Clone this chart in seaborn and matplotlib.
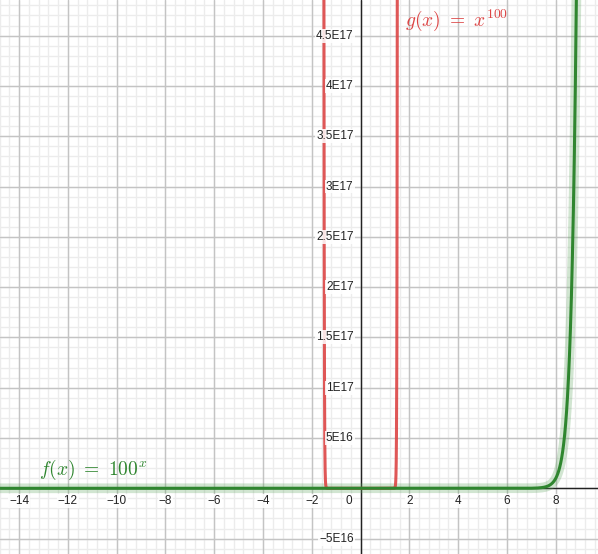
import numpy as np
import pandas as pd
import matplotlib
matplotlib.use("Agg")
import matplotlib.pyplot as plt
import seaborn as sns

# ---- data ----
x_ticks = [-14, -12, -10, -8, -6, -4, -2, 2, 4, 6, 8]
y_ticks = [-5e16, 5e16, 1e17, 1.5e17, 2e17, 2.5e17, 3e17, 3.5e17, 4e17, 4.5e17]
y_tick_labels = ["\u22125E16", "5E16", "1E17", "1.5E17", "2E17", "2.5E17",
                 "3E17", "3.5E17", "4E17", "4.5E17"]
f_base = 100.0        # f(x) = 100^x
g_power = 100         # g(x) = x^100
f_x = np.linspace(-15, 8.9, 1200)
g_x = np.linspace(-1.51, 1.51, 1200)
f_y = f_base ** f_x
g_y = g_x ** g_power

XMIN, XMAX = -14.78, 9.73
YMIN, YMAX = -6.53e16, 4.854e17

sns.set_style("white")
plt.rcParams['font.family'] = ['Liberation Sans', 'DejaVu Sans']
plt.rcParams['mathtext.fontset'] = 'cm'

fig = plt.figure(figsize=(5.98, 5.54), dpi=100)
ax = fig.add_axes([0, 0, 1, 1])
ax.set_xlim(XMIN, XMAX)
ax.set_ylim(YMIN, YMAX)

# grid
for v in np.arange(-16, 10.01, 0.4):
    ax.axvline(v, color="#ececec", lw=1, zorder=0)
for v in np.arange(-1e17, 5e17 + 1, 1e16):
    ax.axhline(v, color="#ececec", lw=1, zorder=0)
for v in range(-16, 11, 2):
    ax.axvline(v, color="#c4c4c4", lw=1, zorder=0.5)
for v in np.arange(-1e17, 5e17 + 1, 5e16):
    ax.axhline(v, color="#c4c4c4", lw=1, zorder=0.5)
ax.axhline(0, color="#222222", lw=1, zorder=1)
ax.axvline(0, color="#222222", lw=1, zorder=1)

green = "#2f862f"
red = "#dc4545"
df_f = pd.DataFrame({"x": f_x, "y": f_y})
df_g = pd.DataFrame({"x": g_x, "y": g_y})
sns.lineplot(data=df_f, x="x", y="y", ax=ax, color="#5aa35a", lw=7, alpha=0.28,
             zorder=2, sort=False)
sns.lineplot(data=df_g, x="x", y="y", ax=ax, color=red, lw=2.2, alpha=0.9,
             zorder=3, sort=False)
sns.lineplot(data=df_f, x="x", y="y", ax=ax, color=green, lw=2.2, zorder=4,
             sort=False)
ax.set_xlim(XMIN, XMAX)
ax.set_ylim(YMIN, YMAX)

for s in ax.spines.values():
    s.set_visible(False)
ax.set_xticks([])
ax.set_yticks([])
ax.set_xlabel("")
ax.set_ylabel("")

bbox = dict(boxstyle="square,pad=0.08", fc="white", ec="none", alpha=0.85)
px_y = (YMAX - YMIN) / 554.0
px_x = (XMAX - XMIN) / 598.0
for t in x_ticks:
    lab = ("\u2212" + str(-t)) if t < 0 else str(t)
    ax.text(t, -13 * px_y, lab, ha="center", va="center", fontsize=8.5,
            color="#222222", bbox=bbox, zorder=5)
ax.text(-12 * px_x, -13 * px_y, "0", ha="center", va="center", fontsize=8.5,
        color="#222222", bbox=bbox, zorder=5)
for v, lab in zip(y_ticks, y_tick_labels):
    ax.text(-7 * px_x, v, lab, ha="right", va="center", fontsize=8.5,
            color="#222222", bbox=bbox, zorder=5)

ax.text(-13.2, 18 * px_y, r"$f(x)\ =\ 100^{x}$", color=green, fontsize=14,
        ha="left", va="center", zorder=6)
ax.text(1.8, 4.65e17, r"$g(x)\ =\ x^{100}$", color=red, fontsize=14,
        ha="left", va="center", zorder=6)

fig.savefig("out.png", dpi=100)
